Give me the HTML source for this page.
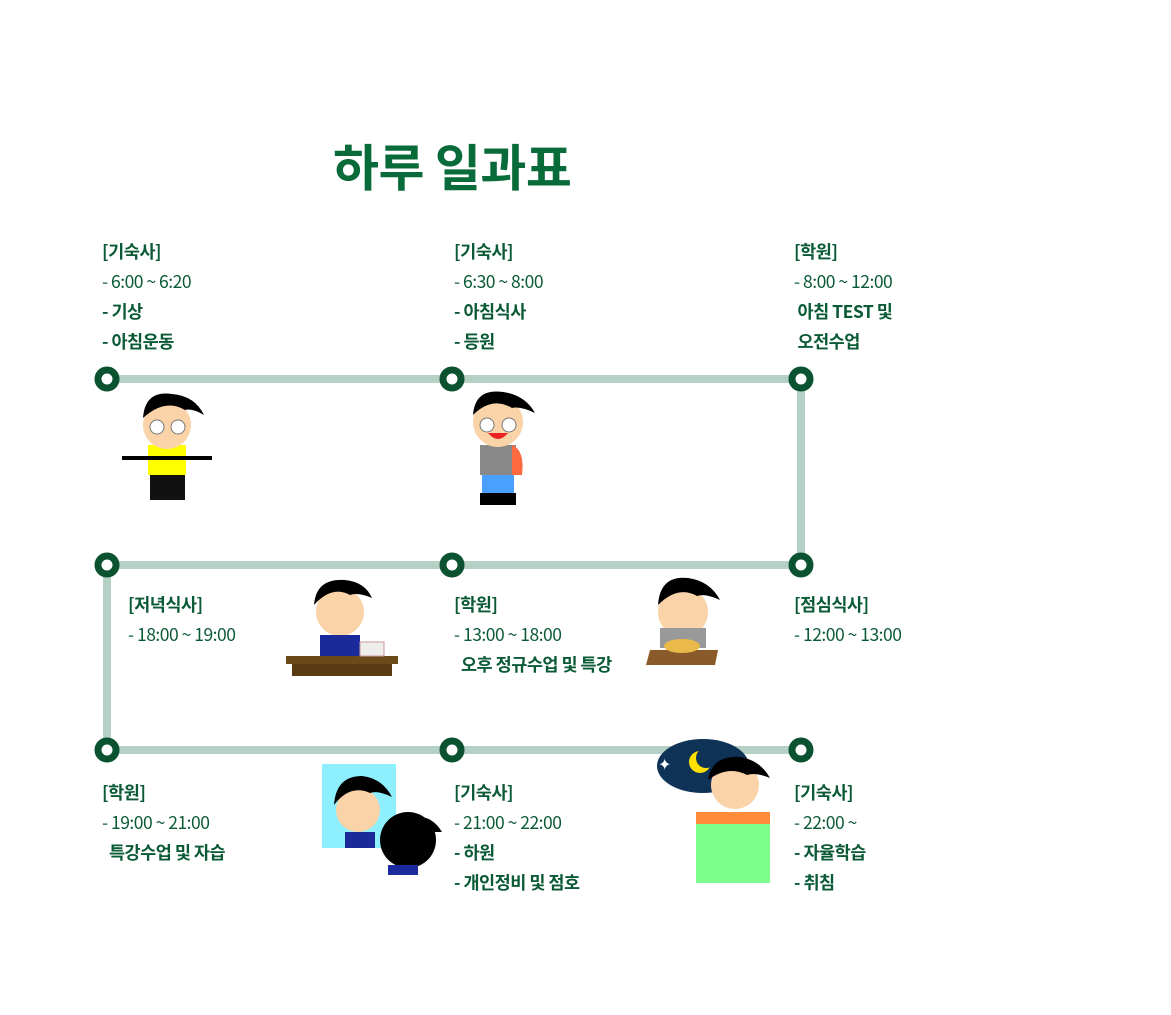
<!DOCTYPE html>
<html><head><meta charset="utf-8"><style>
body{margin:0;background:#fff;width:1171px;height:1015px;overflow:hidden;position:relative;font-family:"Noto Sans CJK KR",sans-serif}
.t{position:absolute;color:#0b5a36;font-size:17.5px;line-height:30px;letter-spacing:-0.5px}
.t b{font-weight:bold}
.t span{font-weight:400}
h1{position:absolute;left:333px;top:130px;margin:0;font-size:50px;line-height:70px;color:#0a6b3a;font-weight:bold;font-family:"Noto Sans CJK KR",sans-serif;letter-spacing:-0.5px}
</style></head><body>
<h1>하루 일과표</h1>
<svg width="1171" height="1015" style="position:absolute;left:0;top:0">
<g stroke="#b5d0c5" stroke-width="8" fill="none">
<path d="M107 379H801V565H107V750H801"/>
</g>
<g fill="#fff" stroke="#0b5230" stroke-width="7">
<circle cx="107" cy="379" r="9"/><circle cx="452" cy="379" r="9"/><circle cx="801" cy="379" r="9"/>
<circle cx="107" cy="565" r="9"/><circle cx="452" cy="565" r="9"/><circle cx="801" cy="565" r="9"/>
<circle cx="107" cy="750" r="9"/><circle cx="452" cy="750" r="9"/><circle cx="801" cy="750" r="9"/>
</g>
<g>
<rect x="150" y="470" width="35" height="30" fill="#111"/>
<rect x="148" y="445" width="38" height="30" fill="#ff0"/>
<line x1="122" y1="458" x2="212" y2="458" stroke="#000" stroke-width="4"/>
<circle cx="167" cy="425" r="24" fill="#fbd3a8"/>
<path d="M143 418 Q145 390 172 394 Q195 396 204 415 Q192 408 185 410 Q165 398 143 418Z" fill="#000"/>
<circle cx="157" cy="427" r="7" fill="#fff" stroke="#777"/><circle cx="178" cy="427" r="7" fill="#fff" stroke="#777"/>
</g>
<g>
<rect x="482" y="470" width="32" height="28" fill="#4aa0ff"/>
<rect x="480" y="445" width="36" height="30" fill="#888"/>
<path d="M512 445 Q525 450 522 475 L512 475Z" fill="#ff6a40"/>
<rect x="480" y="493" width="36" height="12" fill="#000"/>
<circle cx="498" cy="422" r="25" fill="#fbd3a8"/>
<path d="M473 415 Q475 388 503 392 Q525 395 535 413 Q520 406 512 408 Q492 396 473 415Z" fill="#000"/>
<circle cx="487" cy="425" r="7" fill="#fff" stroke="#777"/><circle cx="509" cy="425" r="7" fill="#fff" stroke="#777"/>
<path d="M488 433 Q498 445 508 433Z" fill="#e22"/>
</g>
<g>
<circle cx="340" cy="612" r="24" fill="#fbd3a8"/>
<path d="M314 605 Q316 578 345 580 Q365 582 372 598 Q358 592 350 595 Q332 585 314 605Z" fill="#000"/>
<rect x="320" y="635" width="40" height="22" fill="#1a2a9a"/>
<rect x="286" y="656" width="112" height="8" fill="#6b4a1a"/>
<rect x="292" y="664" width="100" height="12" fill="#5a3a12"/>
<rect x="360" y="642" width="24" height="14" fill="#eee" stroke="#c99"/>
</g>
<g>
<circle cx="683" cy="612" r="25" fill="#fbd3a8"/>
<path d="M658 605 Q660 575 688 578 Q710 581 720 600 Q705 593 697 596 Q678 585 658 605Z" fill="#000"/>
<rect x="660" y="628" width="46" height="20" fill="#999"/>
<polygon points="650,650 718,650 715,665 646,665" fill="#8a5a2a"/>
<ellipse cx="682" cy="646" rx="18" ry="7" fill="#e9b94a"/>
</g>
<g>
<rect x="322" y="764" width="74" height="84" fill="#8ef0ff"/>
<circle cx="358" cy="810" r="22" fill="#fbd3a8"/>
<path d="M334 805 Q336 776 362 776 Q382 778 392 797 Q378 790 370 793 Q350 784 334 805Z" fill="#000"/>
<rect x="345" y="832" width="30" height="16" fill="#1a2a9a"/>
<circle cx="408" cy="840" r="28" fill="#000"/>
<path d="M408 818 Q430 812 442 832 L420 832Z" fill="#000"/>
<rect x="388" y="865" width="30" height="10" fill="#1a2a9a"/>
</g>
<g>
<ellipse cx="703" cy="766" rx="46" ry="27" fill="#0e3357"/>
<circle cx="700" cy="762" r="11" fill="#ffe000"/><circle cx="706" cy="758" r="10" fill="#0e3357"/>
<text x="658" y="770" fill="#fff" font-size="16">✦</text>
<circle cx="735" cy="785" r="24" fill="#fbd3a8"/>
<path d="M708 780 Q712 755 740 757 Q760 760 770 778 Q755 772 747 775 Q728 765 708 780Z" fill="#000"/>
<rect x="696" y="812" width="74" height="14" fill="#ff8a3a"/>
<rect x="696" y="824" width="74" height="59" fill="#7dff8e"/>
</g>
</svg>
<div class="t" style="left:102px;top:237px"><b>[기숙사]</b><br><span>- 6:00 ~ 6:20</span><br><b>- 기상</b><br><b>- 아침운동</b></div>
<div class="t" style="left:454px;top:237px"><b>[기숙사]</b><br><span>- 6:30 ~ 8:00</span><br><b>- 아침식사</b><br><b>- 등원</b></div>
<div class="t" style="left:794px;top:237px"><b>[학원]</b><br><span>- 8:00 ~ 12:00</span><br><b>&nbsp;아침 TEST 및</b><br><b>&nbsp;오전수업</b></div>
<div class="t" style="left:128px;top:590px"><b>[저녁식사]</b><br><span>- 18:00 ~ 19:00</span></div>
<div class="t" style="left:454px;top:590px"><b>[학원]</b><br><span>- 13:00 ~ 18:00</span><br><b>&nbsp;&nbsp;오후 정규수업 및 특강</b></div>
<div class="t" style="left:794px;top:590px"><b>[점심식사]</b><br><span>- 12:00 ~ 13:00</span></div>
<div class="t" style="left:102px;top:778px"><b>[학원]</b><br><span>- 19:00 ~ 21:00</span><br><b>&nbsp;&nbsp;특강수업 및 자습</b></div>
<div class="t" style="left:454px;top:778px"><b>[기숙사]</b><br><span>- 21:00 ~ 22:00</span><br><b>- 하원</b><br><b>- 개인정비 및 점호</b></div>
<div class="t" style="left:794px;top:778px"><b>[기숙사]</b><br><span>- 22:00 ~</span><br><b>- 자율학습</b><br><b>- 취침</b></div>
</body></html>
